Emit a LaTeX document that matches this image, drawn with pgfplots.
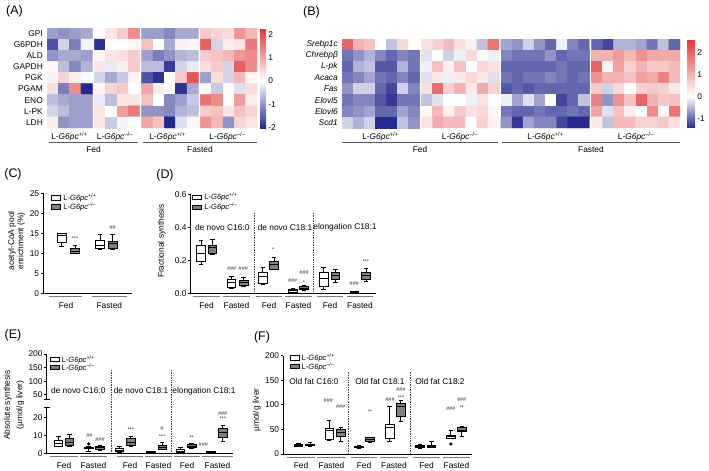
\documentclass[border=0pt]{standalone}
\usepackage{fontspec}
\setmainfont{Liberation Sans}
\usepackage{pgfplots}
\pgfplotsset{compat=1.18}
\usepgfplotslibrary{statistics}

\definecolor{boxgray}{RGB}{128,128,128}
\definecolor{brk}{RGB}{125,125,125}
\newcommand{\fsz}[1]{\fontsize{#1}{#1}\selectfont}
\newcommand{\WT}{L-\textit{G6pc}\textsuperscript{+/+}}
\newcommand{\KO}{L-\textit{G6pc}\textsuperscript{\textendash/\textendash}}

\tikzset{
  wt/.style={draw=black, fill=white, line width=0.8bp},
  ko/.style={draw=black, fill=boxgray, line width=0.8bp},
  lab/.style={font=\fsz{8.4}, inner sep=0pt},
  sig/.style={font=\fsz{5.5}, inner sep=0pt, text=black!80},
  brl/.style={draw=brk, line width=1bp},
  sep/.style={draw=black!75, densely dotted, line width=0.7bp},
}

\pgfplotsset{
  /pgf/number format/assume math mode=true,
  boxpanel/.style={scale only axis, anchor=south west, clip=false,
    boxplot/draw direction=y,
    boxplot/box extend=8.5, boxplot/whisker extend=4.5,
    axis x line*=bottom, axis y line*=left,
    axis line style={-, line width=1bp, black},
    xtick=\empty, tick align=outside, major tick length=2.5bp,
    ytick style={line width=0.9bp, black},
    yticklabel style={font=\fsz{8.4}, inner sep=1.5bp}},
  heat/.style={scale only axis, anchor=north west, y dir=reverse,
    ymin=-0.5, xtick=\empty, major tick length=0pt,
    axis line style={draw=none}, point meta=explicit,
    yticklabel style={font=\fsz{8.4}, inner sep=1bp, xshift=-3bp},
    colorbar},
}

% box: position, lower whisker, q1, median, q3, upper whisker, style
\newcommand{\bx}[7]{\addplot[#7, boxplot prepared={draw position=#1,
  lower whisker=#2, lower quartile=#3, median=#4, upper quartile=#5,
  upper whisker=#6}] coordinates {};}
% same with one outlier
\newcommand{\bxo}[8]{\addplot[#7, mark=*, mark size=1.2bp, mark options={fill=black},
  boxplot prepared={draw position=#1,
  lower whisker=#2, lower quartile=#3, median=#4, upper quartile=#5,
  upper whisker=#6}] coordinates {(0,#8)};}

\begin{document}
\begin{tikzpicture}
\useasboundingbox (0,0) rectangle (709bp,-471bp);

% ---------------- (A) heatmap
\begin{axis}[heat, at={(47bp,-28bp)}, width=210bp, height=100bp,
  xmin=-0.5, xmax=18.04, ymax=8.5, ytick={0,...,8},
  yticklabels={GPI,G6PDH,ALD,GAPDH,PGK,PGAM,ENO,L-PK,LDH},
  colormap={hmA}{rgb255(0pt)=(35,40,140) rgb255(200pt)=(255,255,255) rgb255(426pt)=(222,55,55)},
  point meta min=-2, point meta max=2.26,
  colorbar shift/.style={xshift=3bp},
  colorbar style={width=6bp, ytick={-2,-1,0,1,2}, yticklabels={-2,-1,0,1,2},
    axis line style={draw=none}, major tick length=0pt,
    yticklabel style={font=\fsz{8.4}, inner sep=2bp}}]
% Fed WT
\addplot[matrix plot*, mesh/cols=4] coordinates {
(0,0)[-0.9] (1,0)[-1.0] (2,0)[-0.9] (3,0)[-0.8]
(0,1)[-1.6] (1,1)[-0.4] (2,1)[-1.2] (3,1)[-0.1]
(0,2)[-1.0] (1,2)[-0.8] (2,2)[-0.8] (3,2)[-0.9]
(0,3)[0.1] (1,3)[-0.6] (2,3)[-1.1] (3,3)[-0.7]
(0,4)[-0.1] (1,4)[0.5] (2,4)[0.2] (3,4)[-0.05]
(0,5)[0.4] (1,5)[-1.2] (2,5)[1.3] (3,5)[-2.0]
(0,6)[-0.6] (1,6)[-0.8] (2,6)[-0.9] (3,6)[-0.9]
(0,7)[-0.4] (1,7)[-0.6] (2,7)[-0.9] (3,7)[-0.9]
(0,8)[0.2] (1,8)[-1.0] (2,8)[-0.9] (3,8)[-0.9]
};
% Fed KO
\addplot[matrix plot*, mesh/cols=4, x filter/.expression={x+4.18}] coordinates {
(0,0)[0.0] (1,0)[0.3] (2,0)[0.6] (3,0)[1.3]
(0,1)[-1.9] (1,1)[0.0] (2,1)[0.0] (3,1)[0.1]
(0,2)[0.1] (1,2)[0.3] (2,2)[0.4] (3,2)[0.6]
(0,3)[0.3] (1,3)[-0.2] (2,3)[0.2] (3,3)[0.6]
(0,4)[-0.4] (1,4)[-0.8] (2,4)[-0.5] (3,4)[0.15]
(0,5)[0.1] (1,5)[0.5] (2,5)[0.6] (3,5)[0.0]
(0,6)[-0.2] (1,6)[-0.6] (2,6)[0.3] (3,6)[0.3]
(0,7)[0.3] (1,7)[0.0] (2,7)[1.1] (3,7)[1.5]
(0,8)[0.3] (1,8)[-0.5] (2,8)[-0.1] (3,8)[0.0]
};
% Fasted WT
\addplot[matrix plot*, mesh/cols=5, x filter/.expression={x+8.36}] coordinates {
(0,0)[-0.9] (1,0)[-0.9] (2,0)[-1.1] (3,0)[-0.8] (4,0)[-0.8]
(0,1)[0.7] (1,1)[0.0] (2,1)[-0.8] (3,1)[0.15] (4,1)[0.1]
(0,2)[-0.9] (1,2)[-1.2] (2,2)[-1.0] (3,2)[-0.7] (4,2)[-0.6]
(0,3)[-0.6] (1,3)[-0.6] (2,3)[-1.8] (3,3)[-0.4] (4,3)[-0.2]
(0,4)[-1.6] (1,4)[-1.9] (2,4)[0.0] (3,4)[0.6] (4,4)[1.9]
(0,5)[1.0] (1,5)[0.2] (2,5)[0.0] (3,5)[-1.9] (4,5)[-0.8]
(0,6)[0.7] (1,6)[0.0] (2,6)[-1.1] (3,6)[-0.9] (4,6)[-0.5]
(0,7)[-1.0] (1,7)[-1.0] (2,7)[-1.1] (3,7)[-0.7] (4,7)[-0.6]
(0,8)[1.0] (1,8)[0.7] (2,8)[-2.0] (3,8)[-0.3] (4,8)[0.1]
};
% Fasted KO
\addplot[matrix plot*, mesh/cols=5, x filter/.expression={x+13.54}] coordinates {
(0,0)[0.6] (1,0)[0.5] (2,0)[0.4] (3,0)[1.2] (4,0)[0.8]
(0,1)[1.8] (1,1)[-0.4] (2,1)[0.2] (3,1)[0.3] (4,1)[1.5]
(0,2)[0.6] (1,2)[0.7] (2,2)[0.8] (3,2)[1.2] (4,2)[1.3]
(0,3)[0.4] (1,3)[0.6] (2,3)[-0.4] (3,3)[1.8] (4,3)[1.3]
(0,4)[-0.9] (1,4)[0.4] (2,4)[-0.4] (3,4)[0.8] (4,4)[0.1]
(0,5)[0.0] (1,5)[-0.5] (2,5)[0.05] (3,5)[-0.3] (4,5)[0.4]
(0,6)[1.6] (1,6)[1.3] (2,6)[0.0] (3,6)[1.1] (4,6)[0.2]
(0,7)[0.6] (1,7)[0.7] (2,7)[0.3] (3,7)[0.7] (4,7)[0.5]
(0,8)[1.2] (1,8)[0.8] (2,8)[-1.0] (3,8)[0.5] (4,8)[0.3]
};
\end{axis}

% ---------------- (B) heatmap
\begin{axis}[heat, at={(342bp,-39bp)}, width=338bp, height=89bp,
  xmin=-0.5, xmax=30.04, ymax=7.5, ytick={0,...,7},
  yticklabels={\textit{Srebp1c},\textit{Chrebpβ},\textit{L-pk},\textit{Acaca},\textit{Fas},\textit{Elovl5},\textit{Elovl6},\textit{Scd1}},
  colormap={hmB}{rgb255(0pt)=(35,40,140) rgb255(141pt)=(255,255,255) rgb255(400pt)=(222,55,55)},
  point meta min=-1.41, point meta max=2.59,
  colorbar shift/.style={xshift=7bp},
  colorbar style={width=8bp, ytick={-1,0,1,2}, yticklabels={-1,0,1,2},
    axis line style={draw=none}, major tick length=0pt,
    yticklabel style={font=\fsz{8.4}, inner sep=2bp}}]
% Fed WT
\addplot[matrix plot*, mesh/cols=7] coordinates {
(0,0)[2.0] (1,0)[1.0] (2,0)[0.8] (3,0)[0.0] (4,0)[-0.4] (5,0)[0.5] (6,0)[0.05]
(0,1)[-0.9] (1,1)[-0.7] (2,1)[-0.5] (3,1)[-0.8] (4,1)[-1.0] (5,1)[-0.8] (6,1)[-0.9]
(0,2)[-1.0] (1,2)[-0.5] (2,2)[-0.4] (3,2)[-1.1] (4,2)[-1.1] (5,2)[-0.5] (6,2)[-0.9]
(0,3)[-0.9] (1,3)[-0.8] (2,3)[-0.6] (3,3)[-0.9] (4,3)[-1.0] (5,3)[-0.8] (6,3)[-1.0]
(0,4)[-0.7] (1,4)[-0.3] (2,4)[-0.3] (3,4)[-1.0] (4,4)[-1.2] (5,4)[-0.3] (6,4)[-0.8]
(0,5)[-0.9] (1,5)[-0.8] (2,5)[-0.8] (3,5)[-1.1] (4,5)[-1.3] (5,5)[-0.9] (6,5)[-0.9]
(0,6)[-0.8] (1,6)[-0.7] (2,6)[-0.6] (3,6)[-1.0] (4,6)[-1.0] (5,6)[-0.6] (6,6)[-0.8]
(0,7)[-0.3] (1,7)[-0.5] (2,7)[-0.3] (3,7)[-1.4] (4,7)[-1.4] (5,7)[-0.4] (6,7)[-0.7]
};
% Fed KO
\addplot[matrix plot*, mesh/cols=7, x filter/.expression={x+7.18}] coordinates {
(0,0)[0.4] (1,0)[0.6] (2,0)[0.9] (3,0)[0.4] (4,0)[0.2] (5,0)[-0.4] (6,0)[1.8]
(0,1)[-0.2] (1,1)[0.0] (2,1)[-0.3] (3,1)[-0.1] (4,1)[0.5] (5,1)[0.1] (6,1)[-0.1]
(0,2)[-0.1] (1,2)[0.8] (2,2)[0.2] (3,2)[0.8] (4,2)[0.0] (5,2)[0.5] (6,2)[0.4]
(0,3)[-0.2] (1,3)[0.3] (2,3)[-0.1] (3,3)[0.3] (4,3)[0.5] (5,3)[0.3] (6,3)[-0.2]
(0,4)[0.4] (1,4)[1.9] (2,4)[0.6] (3,4)[1.0] (4,4)[0.3] (5,4)[1.1] (6,4)[0.6]
(0,5)[-0.4] (1,5)[-0.2] (2,5)[0.0] (3,5)[0.0] (4,5)[-0.1] (5,5)[0.4] (6,5)[0.0]
(0,6)[0.1] (1,6)[0.9] (2,6)[0.2] (3,6)[0.7] (4,6)[0.4] (5,6)[0.5] (6,6)[0.1]
(0,7)[0.4] (1,7)[1.1] (2,7)[0.9] (3,7)[0.9] (4,7)[0.0] (5,7)[0.6] (6,7)[0.2]
};
% Fasted WT
\addplot[matrix plot*, mesh/cols=8, x filter/.expression={x+14.36}] coordinates {
(0,0)[-0.6] (1,0)[-0.7] (2,0)[-0.3] (3,0)[-0.7] (4,0)[-1.0] (5,0)[-0.1] (6,0)[-0.8] (7,0)[-1.0]
(0,1)[-0.8] (1,1)[-0.9] (2,1)[-0.9] (3,1)[-0.9] (4,1)[-0.7] (5,1)[-1.0] (6,1)[-0.9] (7,1)[-0.9]
(0,2)[-1.0] (1,2)[-1.0] (2,2)[-1.0] (3,2)[-1.0] (4,2)[-1.0] (5,2)[-0.9] (6,2)[-1.0] (7,2)[-1.0]
(0,3)[-0.9] (1,3)[-1.0] (2,3)[-0.9] (3,3)[-0.9] (4,3)[-0.8] (5,3)[-0.9] (6,3)[-1.0] (7,3)[-0.9]
(0,4)[-1.1] (1,4)[-1.0] (2,4)[-1.1] (3,4)[-1.0] (4,4)[-1.0] (5,4)[-1.0] (6,4)[-1.0] (7,4)[-1.0]
(0,5)[-0.1] (1,5)[-0.6] (2,5)[-0.2] (3,5)[-0.6] (4,5)[0.0] (5,5)[-1.2] (6,5)[-1.0] (7,5)[-0.4]
(0,6)[-0.9] (1,6)[-1.0] (2,6)[-1.0] (3,6)[-0.9] (4,6)[-1.0] (5,6)[-1.0] (6,6)[-0.9] (7,6)[-1.0]
(0,7)[-0.7] (1,7)[-1.3] (2,7)[-0.6] (3,7)[-0.8] (4,7)[-0.8] (5,7)[-1.2] (6,7)[-1.4] (7,7)[-1.4]
};
% Fasted KO
\addplot[matrix plot*, mesh/cols=8, x filter/.expression={x+22.54}] coordinates {
(0,0)[-1.0] (1,0)[-1.2] (2,0)[-0.5] (3,0)[-0.5] (4,0)[-0.6] (5,0)[-0.9] (6,0)[-0.4] (7,0)[-1.0]
(0,1)[1.0] (1,1)[1.0] (2,1)[1.3] (3,1)[0.9] (4,1)[1.4] (5,1)[1.1] (6,1)[1.1] (7,1)[1.1]
(0,2)[2.0] (1,2)[0.2] (2,2)[1.2] (3,2)[0.6] (4,2)[1.0] (5,2)[0.7] (6,2)[0.7] (7,2)[0.9]
(0,3)[1.4] (1,3)[1.0] (2,3)[1.0] (3,3)[0.8] (4,3)[1.2] (5,3)[1.1] (6,3)[1.6] (7,3)[0.9]
(0,4)[0.7] (1,4)[-0.3] (2,4)[0.5] (3,4)[0.0] (4,4)[0.6] (5,4)[0.7] (6,4)[0.6] (7,4)[0.3]
(0,5)[1.6] (1,5)[-0.7] (2,5)[1.4] (3,5)[0.8] (4,5)[2.0] (5,5)[1.0] (6,5)[0.7] (7,5)[0.8]
(0,6)[1.2] (1,6)[-0.2] (2,6)[0.8] (3,6)[0.2] (4,6)[0.0] (5,6)[1.5] (6,6)[0.1] (7,6)[1.8]
(0,7)[0.3] (1,7)[-0.4] (2,7)[0.9] (3,7)[0.9] (4,7)[0.6] (5,7)[0.6] (6,7)[0.7] (7,7)[0.4]
};
\end{axis}

% ---------------- (C)
\begin{axis}[boxpanel, at={(43.3bp,-293.3bp)}, width=88.4bp, height=100bp,
  xmin=43.3, xmax=131.7, ymin=0, ymax=25, ytick={0,5,...,25}]
\bx{61.7}{11.8}{12.75}{14.5}{15}{15.1}{wt}
\bx{75}{9.9}{10}{10.6}{11.25}{12.1}{ko}
\bx{100}{11.1}{11.25}{12.0}{13.3}{14.75}{wt}
\bx{112.7}{11}{11.25}{12.5}{13.1}{14.75}{ko}
\end{axis}

% ---------------- (D)  (x in units of 10 px)
\begin{axis}[boxpanel, at={(190.7bp,-293.3bp)}, width=185bp, height=99bp,
  boxplot/box extend=0.85, boxplot/whisker extend=0.45,
  xmin=19.07, xmax=37.57, ymin=0, ymax=0.6, ytick={0,0.2,0.4,0.6},
  yticklabels={0.0,0.2,0.4,0.6}]
\bx{20.1}{0.176}{0.192}{0.242}{0.289}{0.323}{wt}
\bx{21.25}{0.236}{0.242}{0.277}{0.289}{0.329}{ko}
\bx{23.15}{0.030}{0.034}{0.065}{0.087}{0.105}{wt}
\bx{24.37}{0.040}{0.046}{0.067}{0.081}{0.097}{ko}
\bx{26.28}{0.053}{0.057}{0.105}{0.127}{0.156}{wt}
\bx{27.4}{0.143}{0.145}{0.176}{0.192}{0.218}{ko}
\bx{29.3}{0.006}{0.008}{0.016}{0.024}{0.030}{wt}
\bx{30.4}{0.018}{0.022}{0.032}{0.040}{0.046}{ko}
\bx{32.37}{0.022}{0.044}{0.091}{0.127}{0.155}{wt}
\bx{33.53}{0.064}{0.087}{0.111}{0.129}{0.145}{ko}
\bx{35.45}{0.002}{0.003}{0.006}{0.010}{0.014}{wt}
\bx{36.6}{0.075}{0.087}{0.111}{0.125}{0.151}{ko}
\end{axis}

% ---------------- (E) broken axis: upper part
\begin{axis}[boxpanel, axis x line=none, at={(46.7bp,-399.3bp)}, width=186.6bp, height=45.3bp,
  xmin=46.7, xmax=233.3, ymin=34, ymax=200, ytick={50,100,150,200}]
\end{axis}
% lower part
\begin{axis}[boxpanel, at={(46.7bp,-453.3bp)}, width=186.6bp, height=46bp,
  xmin=46.7, xmax=233.3, ymin=0, ymax=25.5, ytick={0,10,20}]
\bx{58.5}{3.7}{4.0}{5.5}{7.0}{9.2}{wt}
\bx{69.5}{3.7}{4.2}{6.1}{8.1}{10.5}{ko}
\bxo{88.7}{0.9}{2.5}{3.1}{3.4}{3.7}{wt}{5.2}
\bx{100}{1.8}{2.2}{3.1}{3.9}{4.6}{ko}
\bx{119.5}{0.55}{0.9}{1.85}{2.8}{3.7}{wt}
\bx{130.8}{3.7}{4.2}{5.9}{8.1}{9.2}{ko}
\bx{150.8}{0.3}{0.5}{0.8}{1.0}{1.2}{wt}
\bx{162.2}{2.2}{2.4}{3.3}{4.6}{5.9}{ko}
\bx{180.5}{0.3}{0.3}{1.3}{2.2}{3.1}{wt}
\bx{191.7}{2.6}{3.1}{4.0}{5.0}{5.5}{ko}
\bx{211}{0.3}{0.4}{0.6}{0.8}{0.9}{wt}
\bx{222.8}{6.8}{8.7}{11.5}{13.9}{15.2}{ko}
\end{axis}

% ---------------- (F)
\begin{axis}[boxpanel, at={(283.3bp,-454bp)}, width=188.4bp, height=98.3bp,
  xmin=283.3, xmax=471.7, ymin=0, ymax=200, ytick={0,50,...,200}]
\bx{298.3}{14.9}{16}{18}{20}{21.7}{wt}
\bx{310}{14.9}{16.5}{18.5}{20.5}{23}{ko}
\bx{329.2}{28.5}{29.9}{48.8}{52.2}{67.8}{wt}
\bx{340.8}{26.4}{36.6}{43.3}{50.2}{54.3}{ko}
\bx{359}{12}{13.5}{14.8}{16}{17}{wt}
\bx{370}{23}{25}{29}{33}{34}{ko}
\bx{389.7}{26.4}{31.9}{54.3}{61}{96.2}{wt}
\bx{400.8}{67.1}{75.9}{96.2}{103.1}{108.5}{ko}
\bx{420}{12}{14}{16}{18}{19}{wt}
\bx{431.3}{12.8}{12.8}{15.6}{18.3}{25}{ko}
\bxo{450.8}{31.9}{31.9}{35.3}{38.7}{48.8}{wt}{20.3}
\bx{461.8}{36.6}{45.4}{48.8}{54.3}{55.6}{ko}
\end{axis}

% ---------------- annotations (1 unit = 1 px of the reference)
\begin{scope}[x=1bp, y=-1bp]
% panel letters
\foreach \t/\xx/\yy in {A/14.5/11, B/311.5/12.5, C/13/174, D/165/175.5, E/13/335, F/262/337}
  \node[font=\fsz{12.5}, inner sep=0pt] at (\xx,\yy) {(\t)};

% heatmap group labels
\foreach \xx/\t in {69.5/\WT, 115/\KO, 167.5/\WT, 227.5/\KO,
                    380.5/\WT, 460/\KO, 545.5/\WT, 636/\KO}
  \node[lab] at (\xx,136.5) {\t};
\draw[line width=1.1bp, black!65] (49,142.7) -- (138,142.7) (143,142.7) -- (257,142.7)
  (342,142.7) -- (498,142.7) (502,142.7) -- (680,142.7);
\foreach \xx/\t in {93.5/Fed, 200/Fasted, 420/Fed, 591/Fasted}
  \node[lab] at (\xx,149.5) {\t};

% y labels
\node[lab, rotate=90, align=center, font=\fsz{8.4}\linespread{1.1}\selectfont] at (16.5,241) {acetyl-CoA pool\\enrichment (\%)};
\node[lab, rotate=90] at (161.7,241) {Fractional synthesis};
\node[lab, rotate=90, align=center, font=\fsz{8.4}\linespread{1.5}\selectfont] at (14,405) {Absolute synthesis\\(µmol/g liver)};
\node[lab, rotate=90] at (256.7,410) {µmol/g liver};

% legends
\foreach \xx/\ya/\yb in {51.7/198/207, 192.7/197.2/207.2, 50/359.5/367.5, 290/357.8/366.5}{
  \draw[wt] (\xx,\ya-2.3) rectangle (\xx+9,\ya+2.3);
  \draw[ko] (\xx,\yb-2.3) rectangle (\xx+9,\yb+2.3);
  \node[font=\fsz{7.6}, anchor=west, inner sep=0pt] at (\xx+11.5,\ya) {\WT};
  \node[font=\fsz{7.6}, anchor=west, inner sep=0pt] at (\xx+11.5,\yb) {\KO};
}

% group brackets and labels under the box panels
\draw[brl] (49.3,296.7) -- (81.7,296.7) (91.7,296.7) -- (126.7,296.7);
\node[lab] at (66,305.5) {Fed}; \node[lab] at (109.3,305.5) {Fasted};
\foreach \a/\b/\t in {193/220/Fed, 223/250/Fasted, 256/282/Fed, 285/312/Fasted, 317/343/Fed, 347/373/Fasted}{
  \draw[brl] (\a,296.5) -- (\b,296.5);
  \node[lab] at ({(\a+\b)/2},305.5) {\t};}
\foreach \a/\b/\t in {50/78/Fed, 80/107/Fasted, 117/143/Fed, 145/172/Fasted, 174/200/Fed, 202/233/Fasted}{
  \draw[brl] (\a,456.7) -- (\b,456.7);
  \node[lab] at ({(\a+\b)/2},465.5) {\t};}
\foreach \a/\b/\t in {287/315/Fed, 317/346/Fasted, 351/377/Fed, 380/408/Fasted, 413/440/Fed, 443/470/Fasted}{
  \draw[brl] (\a,457) -- (\b,457);
  \node[lab] at ({(\a+\b)/2},465.5) {\t};}

% dotted separators
\draw[sep] (254,213) -- (254,293) (313,213) -- (313,293);
\draw[sep] (111,370) -- (111,453) (171.7,370) -- (171.7,453);
\draw[sep] (348.3,371.7) -- (348.3,454) (410,371.7) -- (410,454);

% axis break marks (E)
\draw[line width=1bp] (43.5,399.3) -- (50,399.3) (43.5,407.3) -- (50,407.3);

% panel sub-titles
\foreach \xx/\t in {222.3/de novo C16:0, 285/de novo C18:1, 345/elongation C18:1}
  \node[lab] at (\xx,227.3) {\t};
\foreach \xx/\t in {78.3/de novo C16:0, 141/de novo C18:1, 204/elongation C18:1}
  \node[lab] at (\xx,391) {\t};
\foreach \xx/\t in {314/Old fat C16:0, 380/Old fat C18:1, 440/Old fat C18:2}
  \node[lab] at (\xx,381.5) {\t};

% significance marks
\foreach \xx/\yy/\t in {75/238.3/***, 112.7/227.3/\#\#,
  231.7/268.3/\#\#\#, 243.3/268.3/\#\#\#, 273.3/250/*, 292.7/281/\#\#\#,
  304/272.3/\#\#\#, 304/282.3/*, 354.3/283.3/\#\#\#, 365.7/261.7/***,
  89.3/436/\#\#, 100/439.3/\#\#\#, 130.7/430/***, 162/428.3/\#, 162/436.7/***,
  191.7/437.3/**, 203.3/445/\#\#\#, 222.7/413.3/\#\#\#, 222.7/419/***,
  328.3/400.7/\#\#\#, 340.7/406.7/\#\#\#, 370/411.7/**, 390/399.3/\#\#\#,
  401/390/\#\#\#, 401/397.3/***, 450.7/408.3/\#\#\#, 461.7/400/\#\#\#, 461.7/407.3/**}
  \node[sig] at (\xx,\yy) {\t};
\end{scope}
\end{tikzpicture}
\end{document}
